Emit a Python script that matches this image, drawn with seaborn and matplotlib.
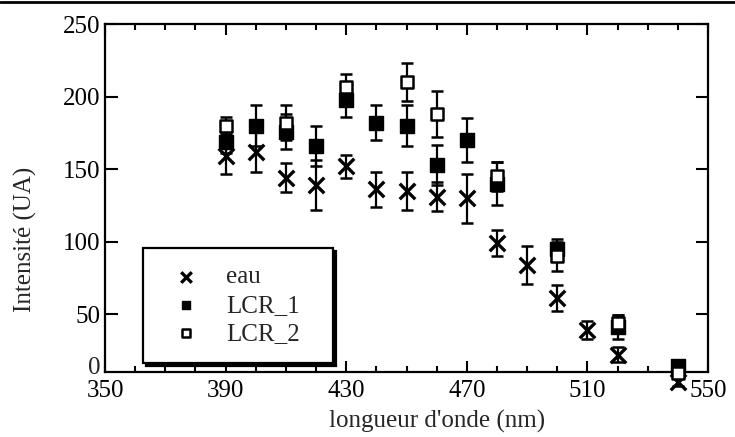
import numpy as np
import pandas as pd
import matplotlib
matplotlib.use("Agg")
import matplotlib.pyplot as plt
from matplotlib.lines import Line2D
from matplotlib.ticker import MultipleLocator
import seaborn as sns

# ---- data ----
x_eau = [390, 400, 410, 420, 430, 440, 450, 460, 470, 480, 490, 500, 510, 520, 540]
eau = [159, 162, 144, 139, 152, 136, 135, 131, 130, 99, 84, 61, 39, 22, 3]
eau_err = [12, 14, 10, 17, 8, 12, 13, 10, 17, 9, 13, 9, 6, 5, 3]

x_lcr1 = [390, 400, 410, 420, 430, 440, 450, 460, 470, 480, 500, 520, 540]
lcr1 = [169, 180, 176, 166, 198, 182, 180, 153, 170, 140, 95, 41, 14]
lcr1_err = [8, 14, 12, 14, 12, 12, 14, 14, 15, 15, 7, 8, 4]

x_lcr2 = [390, 410, 430, 450, 460, 480, 500, 520, 540]
lcr2 = [180, 182, 207, 210, 188, 145, 90, 44, 9]
lcr2_err = [6, 12, 9, 13, 16, 10, 10, 5, 3]

x_ticks = [350, 390, 430, 470, 510, 550]
y_ticks = [50, 100, 150, 200, 250]

sns.set_style("ticks")
plt.rcParams["font.family"] = ["Liberation Serif", "DejaVu Serif"]

fig = plt.figure(figsize=(7.35, 4.37), dpi=100)
ax = fig.add_axes([105 / 735, 1 - 372 / 437, 603 / 735, (372 - 24.3) / 437])

df_eau = pd.DataFrame({"x": x_eau, "y": eau})
df_l1 = pd.DataFrame({"x": x_lcr1, "y": lcr1})
df_l2 = pd.DataFrame({"x": x_lcr2, "y": lcr2})

ebkw = dict(fmt="none", ecolor="black", elinewidth=1.6, capsize=4, capthick=1.8, clip_on=False)
ax.errorbar(x_eau, eau, yerr=eau_err, zorder=2, **ebkw)
ax.errorbar(x_lcr1, lcr1, yerr=lcr1_err, zorder=2, **ebkw)
ax.errorbar(x_lcr2, lcr2, yerr=lcr2_err, zorder=2, **ebkw)

sns.scatterplot(data=df_eau, x="x", y="y", ax=ax, marker="x", color="black",
                s=125, linewidth=2.4, label="eau", zorder=3, clip_on=False)
sns.scatterplot(data=df_l1, x="x", y="y", ax=ax, marker="s", color="black",
                edgecolor="black", s=90, linewidth=1.0, label="LCR_1", zorder=4, clip_on=False)
sns.scatterplot(data=df_l2, x="x", y="y", ax=ax, marker="s", color="white",
                edgecolor="black", s=85, linewidth=1.8, label="LCR_2", zorder=5, clip_on=False)

ax.set_xlim(350, 550)
ax.set_ylim(10, 250)
ax.set_xticks(x_ticks)
ax.set_yticks(y_ticks)
ax.xaxis.set_minor_locator(MultipleLocator(10))
ax.tick_params(axis="both", which="both", direction="in", top=True, right=True,
               colors="black", labelsize=18, width=1.5)
ax.tick_params(axis="x", which="major", length=8, pad=6)
ax.tick_params(axis="x", which="minor", length=4)
ax.tick_params(axis="y", which="major", length=9, pad=3)
for sp in ax.spines.values():
    sp.set_linewidth(1.6)
    sp.set_color("black")

ax.text(-0.008, 0.012, "0", transform=ax.transAxes, ha="right", va="center", fontsize=18)

ax.set_xlabel("longueur d'onde (nm)", fontsize=18)
ax.set_ylabel("Intensité (UA)", fontsize=18)
ax.xaxis.set_label_coords((437 - 105) / 603, -0.108)
ax.yaxis.set_label_coords(-0.113, (372 - 239) / 348)

leg = ax.legend(loc="upper left", bbox_to_anchor=(0.063, 0.0, 0.315, 0.357),
                mode="expand", borderaxespad=0.0, frameon=True, fancybox=False,
                fontsize=18, markerscale=0.68, borderpad=0.72, handlelength=2.0,
                handletextpad=0.6, labelspacing=0.23,
                shadow={"color": "black", "alpha": 1.0})
leg.get_frame().set_edgecolor("black")
leg.get_frame().set_linewidth(1.6)
leg.get_frame().set_facecolor("white")
leg.get_frame().set_alpha(1.0)

fig.add_artist(Line2D([0, 1], [1 - 1.5 / 437, 1 - 1.5 / 437], transform=fig.transFigure,
                      color="black", linewidth=2))

fig.savefig("out.png", dpi=100)
